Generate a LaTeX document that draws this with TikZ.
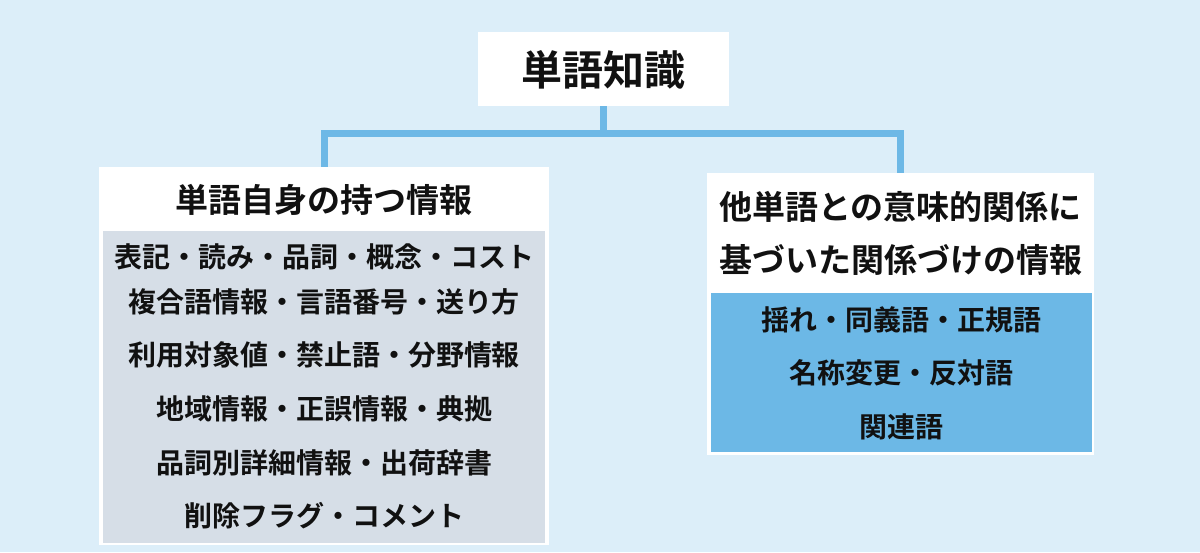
\documentclass[tikz,border=0pt]{standalone}
\usepackage{fontspec}
\setmainfont{Noto Sans CJK JP}[BoldFont={* Bold}]
\definecolor{skyback}{HTML}{DCEEF9}
\definecolor{linkblue}{HTML}{6DB8E6}
\definecolor{listgray}{HTML}{D6DEE7}
\definecolor{listblue}{HTML}{6CB8E6}
\definecolor{ink}{HTML}{111111}

\begin{document}
\begin{tikzpicture}[x=1pt, y=-1pt, font=\bfseries, text=ink,
    card/.style = {fill=white, inner sep=0pt},
    list/.style = {inner sep=0pt},
    conn/.style = {draw=linkblue, line width=7pt},
    head/.style = {inner sep=0pt, font=\fontsize{33}{40}\selectfont\bfseries},
    item/.style = {inner sep=0pt, font=\fontsize{28}{34}\selectfont\bfseries}]
    \fill[skyback] (0,0) rectangle (1200,552);
    \useasboundingbox (0,0) rectangle (1200,552);

    % boxes
    \node[card, minimum width=251pt, minimum height=74pt] (top) at (603.5,69) {};
    \node[card, minimum width=450pt, minimum height=378pt] (left) at (324,356) {};
    \node[list, fill=listgray, minimum width=442pt, minimum height=312pt] (leftlist) at (324,387) {};
    \node[card, minimum width=387pt, minimum height=282pt] (right) at (900.5,314) {};
    \node[list, fill=listblue, minimum width=381pt, minimum height=159pt] (rightlist) at (901,372.5) {};

    % connectors
    \coordinate (bus) at (603.5,133.5);
    \draw[conn] (top.south) -- (bus);
    \draw[conn] (left.north) |- (bus) -| (right.north);

    % texts
    \node[inner sep=0pt, font=\fontsize{41}{48}\selectfont\bfseries] (title) at (603.5,70) {単語知識};
    \node[head] (lefthead) at (324,200) {単語自身の持つ情報};
    \node[item] (l1) at (324,257) {表記・読み・品詞・概念・コスト};
    \node[item] (l2) at (324,302) {複合語情報・言語番号・送り方};
    \node[item] (l3) at (324,355) {利用対象値・禁止語・分野情報};
    \node[item] (l4) at (324,409) {地域情報・正誤情報・典拠};
    \node[item] (l5) at (324,463) {品詞別詳細情報・出荷辞書};
    \node[item] (l6) at (324,516) {削除フラグ・コメント};
    \node[head] (righthead1) at (900.5,207) {他単語との意味的関係に};
    \node[head] (righthead2) at (900.5,260) {基づいた関係づけの情報};
    \node[item] (r1) at (901,320) {揺れ・同義語・正規語};
    \node[item] (r2) at (901,373) {名称変更・反対語};
    \node[item] (r3) at (901,427) {関連語};
\end{tikzpicture}
\end{document}
